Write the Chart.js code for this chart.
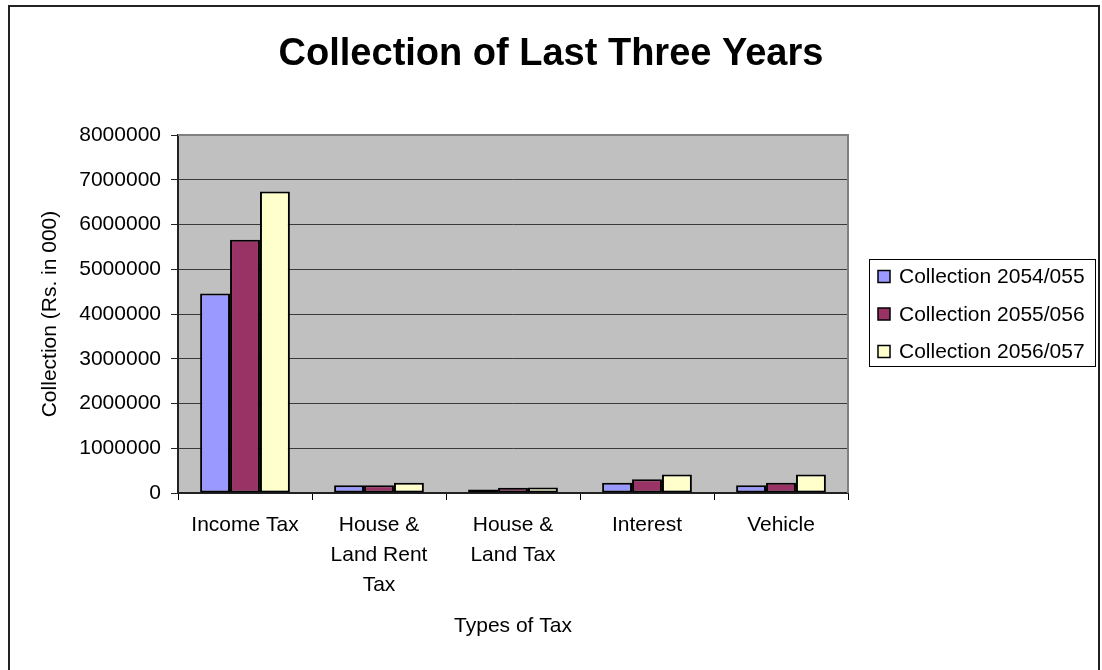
<!DOCTYPE html>
<html>
<head>
<meta charset="utf-8">
<script src="https://cdn.jsdelivr.net/npm/chart.js@4.4.1/dist/chart.umd.min.js"></script>
<style>
html,body{margin:0;padding:0;background:#fff;}
#wrap{width:1102px;height:670px;position:relative;}
</style>
</head>
<body>
<div id="wrap"><canvas id="c" width="1102" height="670"></canvas></div>
<script>
// ---- data ----
const categories = ["Income Tax", ["House &", "Land Rent", "Tax"], ["House &", "Land Tax"], "Interest", "Vehicle"];
const seriesNames = ["Collection 2054/055", "Collection 2055/056", "Collection 2056/057"];
const collection2054 = [4460000, 175000, 78000, 230000, 175000];
const collection2055 = [5660000, 175000, 115000, 310000, 230000];
const collection2056 = [6740000, 230000, 122000, 415000, 415000];
const yMin = 0;
const yMax = 8000000;
const yStep = 1000000;

const chartTitle = "Collection of Last Three Years";
const xTitle = "Types of Tax";
const yTitle = "Collection (Rs. in 000)";

const colors = ["#9999FF", "#993366", "#FFFFCC"];
const FONT = "'Liberation Sans', Arial, sans-serif";

const pagePlugin = {
  id: 'page',
  beforeDraw(chart) {
    const ctx = chart.ctx;
    ctx.save();
    ctx.fillStyle = '#fff';
    ctx.fillRect(0, 0, chart.width, chart.height);
    // outer frame
    ctx.strokeStyle = '#222';
    ctx.lineWidth = 2;
    ctx.beginPath();
    ctx.moveTo(9, 680);
    ctx.lineTo(9, 6);
    ctx.lineTo(1099, 6);
    ctx.lineTo(1099, 680);
    ctx.stroke();
    // plot background
    const a = chart.chartArea;
    ctx.fillStyle = '#C0C0C0';
    ctx.fillRect(a.left, a.top, a.right - a.left, a.bottom - a.top);
    ctx.restore();
  },
  beforeDatasetsDraw(chart) {
    const ctx = chart.ctx;
    const a = chart.chartArea;
    ctx.save();
    ctx.strokeStyle = '#808080';
    ctx.lineWidth = 2;
    ctx.beginPath();
    ctx.moveTo(a.left, a.top);
    ctx.lineTo(a.right, a.top);
    ctx.lineTo(a.right, a.bottom);
    ctx.stroke();
    ctx.restore();
  },
  afterDraw(chart) {
    // legend box
    const ctx = chart.ctx;
    const a = chart.chartArea;
    const bx = a.right + 21, by = 259, bw = 226, bh = 107;
    ctx.save();
    ctx.fillStyle = '#fff';
    ctx.fillRect(bx, by, bw, bh);
    ctx.strokeStyle = '#000';
    ctx.lineWidth = 1;
    ctx.strokeRect(bx + 0.5, by + 0.5, bw, bh);
    ctx.font = '21px ' + FONT;
    ctx.textBaseline = 'middle';
    ctx.textAlign = 'left';
    chart.data.datasets.forEach((ds, i) => {
      const cy = by + 17.5 + i * 37.5;
      ctx.fillStyle = ds.backgroundColor;
      ctx.fillRect(bx + 9, cy - 6, 12, 12);
      ctx.lineWidth = 1.5;
      ctx.strokeStyle = '#000';
      ctx.strokeRect(bx + 9, cy - 6, 12, 12);
      ctx.fillStyle = '#000';
      ctx.fillText(ds.label, bx + 30, cy + 1);
    });
    ctx.restore();
  }
};

const seriesValues = [collection2054, collection2055, collection2056];

new Chart(document.getElementById('c'), {
  type: 'bar',
  data: {
    labels: categories,
    datasets: seriesValues.map((vals, i) => ({
      label: seriesNames[i],
      data: vals,
      backgroundColor: colors[i],
      borderColor: '#000',
      borderWidth: 2,
      borderSkipped: false,
      categoryPercentage: 0.67,
      barPercentage: 1.0
    }))
  },
  options: {
    responsive: false,
    animation: false,
    devicePixelRatio: 1,
    layout: { padding: { left: 0, right: 0, top: 0, bottom: 0 } },
    plugins: {
      legend: { display: false },
      tooltip: { enabled: false },
      title: {
        display: true,
        text: chartTitle,
        color: '#000',
        font: { family: FONT, size: 38, weight: 'bold', lineHeight: 1.2 },
        padding: { top: 32, bottom: 57.4 }
      }
    },
    scales: {
      x: {
        grid: {
          display: true,
          offset: true,
          drawOnChartArea: false,
          drawTicks: true,
          tickLength: 7,
          tickColor: '#000',
          lineWidth: 1
        },
        border: { display: true, color: '#222', width: 2 },
        ticks: {
          color: '#000',
          padding: 10,
          maxRotation: 0,
          autoSkip: false,
          font: { family: FONT, size: 21, lineHeight: '30px' }
        },
        title: {
          display: true,
          text: xTitle,
          color: '#000',
          font: { family: FONT, size: 21, lineHeight: 1.2 },
          padding: { top: 0, bottom: 31 }
        },
        afterFit(s) { s.height = 177; }
      },
      y: {
        min: yMin,
        max: yMax,
        grid: {
          color: '#3a3a3a',
          lineWidth: 1,
          drawTicks: true,
          tickLength: 7,
          tickColor: '#222'
        },
        border: { display: true, color: '#222', width: 2 },
        ticks: {
          stepSize: yStep,
          color: '#000',
          padding: 10,
          font: { family: FONT, size: 21 },
          callback: (v) => String(v)
        },
        title: {
          display: true,
          text: yTitle,
          color: '#000',
          font: { family: FONT, size: 21, lineHeight: 1.2 },
          padding: { top: 38, bottom: 0 }
        },
        afterFit(s) { s.width = 178; }
      },
      yR: {
        position: 'right',
        display: true,
        grid: { display: false, drawTicks: false },
        border: { display: false },
        ticks: { display: false },
        afterFit(s) { s.width = 254; }
      }
    }
  },
  plugins: [pagePlugin]
});
</script>
</body>
</html>
